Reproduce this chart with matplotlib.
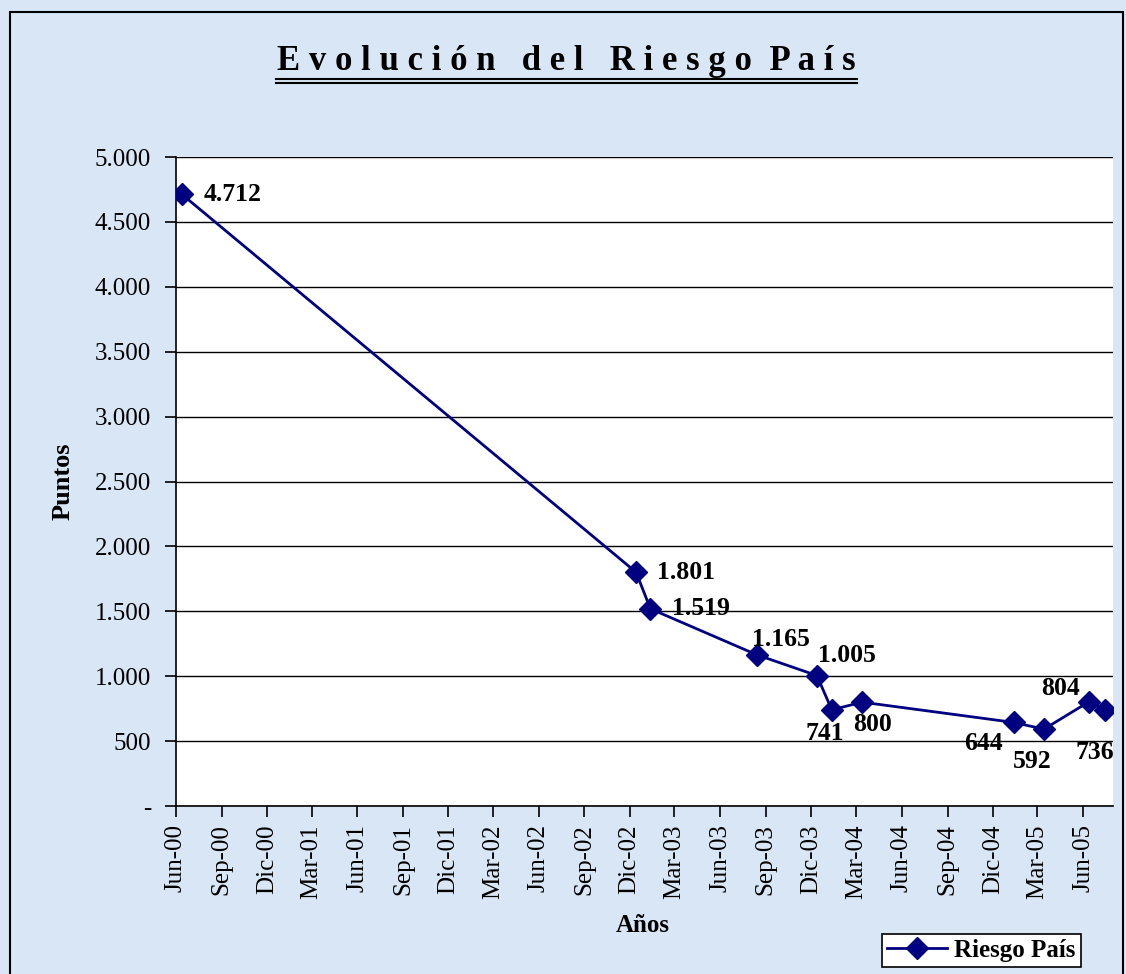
#Evolucion del Riesgo Pais - recreated chart
import matplotlib
matplotlib.use('Agg')
import matplotlib.pyplot as plt
from matplotlib.ticker import MultipleLocator, FuncFormatter
from matplotlib.lines import Line2D
from matplotlib.patches import Rectangle
import pandas as pd

# data
fechas = ['2000-06-13', '2002-12-14', '2003-01-12', '2003-08-14', '2003-12-13',
          '2004-01-12', '2004-03-13', '2005-01-12', '2005-03-14', '2005-06-13',
          '2005-07-15']
riesgo = [4712, 1801, 1519, 1165, 1005, 741, 800, 644, 592, 804, 736]
etiquetas = ['4.712', '1.801', '1.519', '1.165', '1.005', '741', '800',
             '644', '592', '804', '736']

meses_es = {3: 'Mar', 6: 'Jun', 9: 'Sep', 12: 'Dic'}

# label offsets (pixels) from each marker
offsets = [(51, 0), (50, 0), (50, 0), (24, 15), (30, 20), (-7, -24),
           (10, -22), (-30, -21), (-12, -32), (-29, 13), (-10, -42)]

serif = 'Liberation Serif'
azul = '#000080'
fondo = '#d9e6f5'

fig = plt.figure(figsize=(11.26, 9.74), dpi=100)
fig.patch.set_facecolor(fondo)

W, H = 1126, 974
ax = fig.add_axes([176/W, 1-806/H, (1113-176)/W, (806-157)/H])
ax.set_facecolor('white')

x = pd.to_datetime(fechas)
ax.plot(x, riesgo, color=azul, lw=2, marker='D', ms=11,
        label='Riesgo País', zorder=3)

for xi, yi, t, (dx, dy) in zip(x, riesgo, etiquetas, offsets):
    ax.annotate(t, (xi, yi), xytext=(dx, dy), textcoords='offset pixels',
                ha='center', va='center', fontsize=18.5, fontweight='bold',
                family=serif, color='black', zorder=4)

# axes
ax.set_ylim(0, 5000)
ax.set_xlim(pd.Timestamp('2000-06-01'), pd.Timestamp('2005-07-31'))
ax.yaxis.set_major_locator(MultipleLocator(500))
ax.yaxis.set_major_formatter(FuncFormatter(
    lambda v, p: '-' if v == 0 else f'{int(v):,}'.replace(',', '.')))
ax.grid(axis='y', color='black', lw=1)
ax.set_axisbelow(True)

ticks = pd.date_range('2000-06-01', '2005-06-01', freq='3MS')
ax.set_xticks(ticks)
ax.set_xticklabels([f'{meses_es[d.month]}-{d.strftime("%y")}' for d in ticks],
                   rotation=90)

for s in ['top', 'right']:
    ax.spines[s].set_visible(False)
ax.spines['left'].set_linewidth(1.2)
ax.spines['bottom'].set_linewidth(1.2)
ax.tick_params(axis='both', direction='out', length=8, width=1.2,
               labelsize=18)
ax.tick_params(axis='y', pad=10)
ax.tick_params(axis='x', pad=5)
for lab in ax.get_xticklabels() + ax.get_yticklabels():
    lab.set_family(serif)

# axis titles
fig.text(63/W, 1-481/H, 'Puntos', rotation=90, ha='center', va='center',
         fontsize=19, fontweight='bold', family=serif)
fig.text(643/W, 1-925/H, 'Años', ha='center', va='center',
         fontsize=18, fontweight='bold', family=serif)

# title with spaced letters and double underline
titulo = 'E v o l u c i ó n   d e l   R i e s g o  P a í s'
fig.text(566/W, 1-61/H, titulo, ha='center', va='center', fontsize=25,
         fontweight='bold', family=serif)
for yy in (79, 83):
    fig.add_artist(Line2D([276/W, 857/W], [1-yy/H, 1-yy/H], color='black',
                          lw=1.5, transform=fig.transFigure))

# legend
leg = ax.legend(loc='lower left', bbox_to_anchor=(882/W, 1-967/H),
                bbox_transform=fig.transFigure, frameon=True, fancybox=False,
                edgecolor='black', framealpha=1, borderpad=0.2,
                handlelength=2.4, handletextpad=0.3, borderaxespad=0,
                prop={'family': serif, 'weight': 'bold', 'size': 18})
leg.get_frame().set_linewidth(1.2)

# outer border
fig.add_artist(Rectangle((9.5/W, -0.01), (1122.7-9.5)/W, 1-12/H+0.01,
                         fill=False, edgecolor='black', lw=1.5,
                         transform=fig.transFigure))

fig.savefig('out.png', dpi=100, facecolor=fig.get_facecolor())
